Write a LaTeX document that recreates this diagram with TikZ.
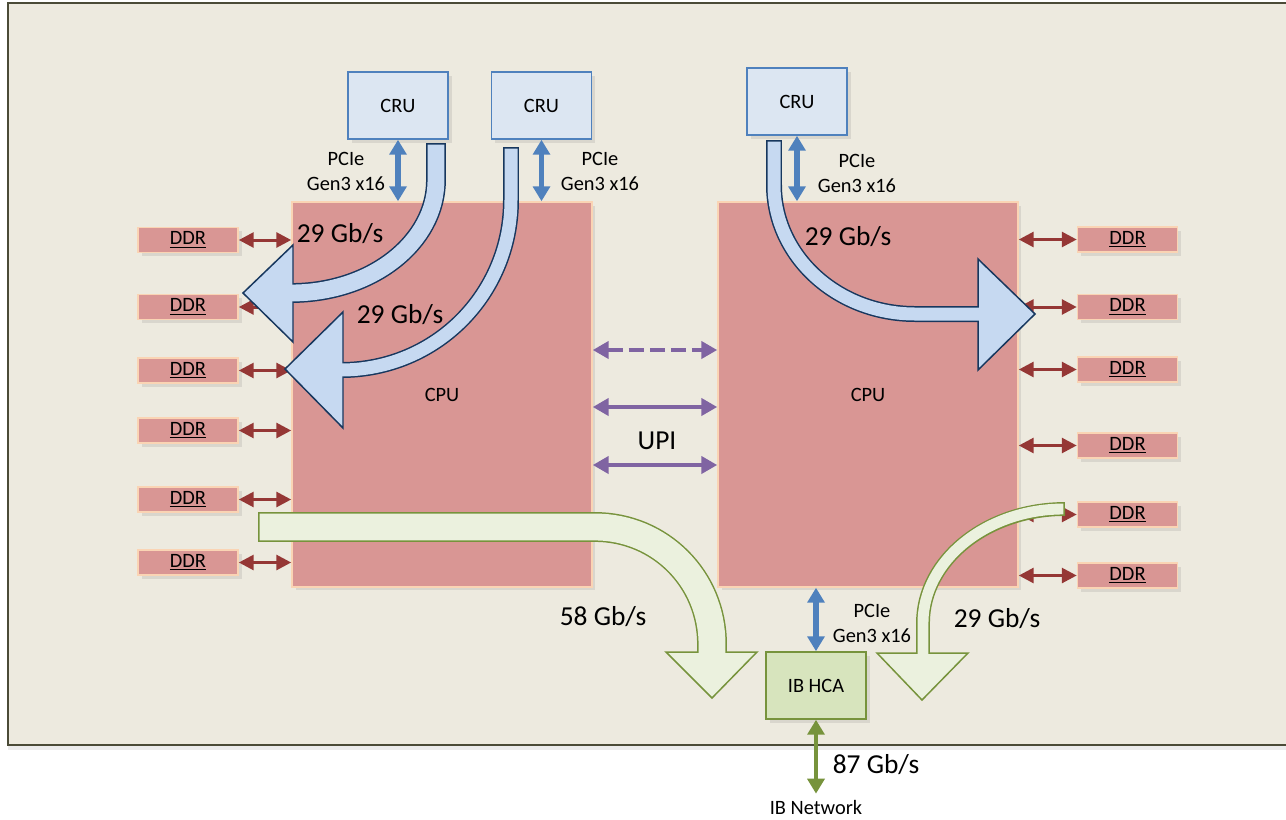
\documentclass[tikz,border=0pt]{standalone}
\usepackage{fontspec}
\setmainfont{Carlito}
\usepackage{tikz}
\usepackage{xcolor}
\usetikzlibrary{arrows.meta,shadows}

\definecolor{panelbg}{HTML}{EDEADF}
\definecolor{panelline}{HTML}{4B4B37}
\definecolor{cpufill}{HTML}{D99694}
\definecolor{cpuline}{HTML}{FAD4B4}
\definecolor{crufill}{HTML}{DCE6F2}
\definecolor{cruline}{HTML}{4F81BD}
\definecolor{memred}{HTML}{953735}
\definecolor{upiviolet}{HTML}{8064A2}
\definecolor{flowblue}{HTML}{C6D9F1}
\definecolor{flowedge}{HTML}{17375E}
\definecolor{hcafill}{HTML}{D7E4BD}
\definecolor{hcagreen}{HTML}{77933C}
\definecolor{flowgreen}{HTML}{EBF1DE}

\newcommand{\lblsize}{\fontsize{11.6}{14.2}\selectfont}
\newcommand{\ratesize}{\fontsize{15.6}{18.7}\selectfont}

\begin{document}
\begin{tikzpicture}[x=0.02cm,y=-0.02cm,
  boxshadow/.style={drop shadow={shadow xshift=2pt,shadow yshift=-2pt,opacity=0.18}},
  cpubox/.style={boxshadow,fill=cpufill,draw=cpuline,line width=0.9pt,inner sep=0pt,
    minimum width=6cm,minimum height=7.7cm,font=\lblsize},
  ddrbox/.style={boxshadow,fill=cpufill,draw=cpuline,line width=0.9pt,inner sep=0pt,
    minimum width=2cm,minimum height=0.5cm,font=\lblsize},
  crubox/.style={boxshadow,fill=crufill,draw=cruline,line width=0.9pt,inner sep=0pt,
    minimum width=2cm,minimum height=1.34cm,font=\lblsize},
  hcabox/.style={boxshadow,fill=hcafill,draw=hcagreen,line width=0.9pt,inner sep=0pt,
    minimum width=2cm,minimum height=1.34cm,font=\lblsize},
  memlink/.style={draw=memred,line width=1.7pt,
    {Triangle[width=8.5pt,length=8.5pt]}-{Triangle[width=8.5pt,length=8.5pt]}},
  pcielink/.style={draw=cruline,line width=3.2pt,
    {Triangle[width=9.6pt,length=8.5pt]}-{Triangle[width=9.6pt,length=8.5pt]}},
  upilink/.style={draw=upiviolet,line width=2.8pt,
    {Triangle[width=9.6pt,length=9pt]}-{Triangle[width=9.6pt,length=9pt]}},
  iblink/.style={draw=hcagreen,line width=2.8pt,
    {Triangle[width=9.6pt,length=8.5pt]}-{Triangle[width=9.6pt,length=8.5pt]}},
  blueedge/.style={draw=flowedge},
  bluebody/.style={draw=flowblue,shorten <=0.9pt},
  bluehead/.style={fill=flowblue,draw=flowedge,line width=0.85pt,line join=miter},
  greenedge/.style={draw=hcagreen},
  greenbody/.style={draw=flowgreen,shorten <=0.9pt},
  greenhead/.style={fill=flowgreen,draw=hcagreen,line width=0.85pt,line join=miter},
  pcielbl/.style={font=\lblsize,align=center,inner sep=0pt},
  ratelbl/.style={font=\ratesize,inner sep=0pt}]

\useasboundingbox (0,0) rectangle (1286,819);
\fill[white] (0,0) rectangle (1286,819);

% Board
\draw[fill=panelbg,draw=panelline,line width=1.2pt,
  drop shadow={shadow xshift=0pt,shadow yshift=-3pt,opacity=0.15}] (8,3) rectangle (1295,745);

% CPUs
\node[cpubox] (cpuL) at (442,394.5) {CPU};
\node[cpubox] (cpuR) at (868,394.5) {CPU};

% CRUs
\node[crubox] (cru1) at (398,105.5) {CRU};
\node[crubox] (cru2) at (541.5,105.5) {CRU};
\node[crubox] (cru3) at (797,101.5) {CRU};

% HCA
\node[hcabox] (hca) at (816,685.5) {IB HCA};
\node[font=\lblsize,anchor=base] (ibnet) at (816,814) {IB Network};

% Memory, left socket
\node[ddrbox] (ddrL1) at (188,240) {\underline{DDR}};
\node[ddrbox] (ddrL2) at (188,307) {\underline{DDR}};
\node[ddrbox] (ddrL3) at (188,370.5) {\underline{DDR}};
\node[ddrbox] (ddrL4) at (188,430.5) {\underline{DDR}};
\node[ddrbox] (ddrL5) at (188,499.5) {\underline{DDR}};
\node[ddrbox] (ddrL6) at (188,562.5) {\underline{DDR}};

% Memory, right socket
\node[ddrbox] (ddrR1) at (1127.5,239.5) {\underline{DDR}};
\node[ddrbox] (ddrR2) at (1127.5,307) {\underline{DDR}};
\node[ddrbox] (ddrR3) at (1127.5,369.5) {\underline{DDR}};
\node[ddrbox] (ddrR4) at (1127.5,445.5) {\underline{DDR}};
\node[ddrbox] (ddrR5) at (1127.5,514.5) {\underline{DDR}};
\node[ddrbox] (ddrR6) at (1127.5,575.5) {\underline{DDR}};

% Memory links
\draw[memlink] (ddrL1.east) -- (cpuL.west |- ddrL1.east);
\draw[memlink] (ddrL2.east) -- (cpuL.west |- ddrL2.east);
\draw[memlink] (ddrL3.east) -- (cpuL.west |- ddrL3.east);
\draw[memlink] (ddrL4.east) -- (cpuL.west |- ddrL4.east);
\draw[memlink] (ddrL5.east) -- (cpuL.west |- ddrL5.east);
\draw[memlink] (ddrL6.east) -- (cpuL.west |- ddrL6.east);
\draw[memlink] (cpuR.east |- ddrR1.west) -- (ddrR1.west);
\draw[memlink] (cpuR.east |- ddrR2.west) -- (ddrR2.west);
\draw[memlink] (cpuR.east |- ddrR3.west) -- (ddrR3.west);
\draw[memlink] (cpuR.east |- ddrR4.west) -- (ddrR4.west);
\draw[memlink] (cpuR.east |- ddrR5.west) -- (ddrR5.west);
\draw[memlink] (cpuR.east |- ddrR6.west) -- (ddrR6.west);

% PCIe links
\draw[pcielink] (cru1.south) -- (cru1.south |- cpuL.north);
\draw[pcielink] (cru2.south) -- (cru2.south |- cpuL.north);
\draw[pcielink] (cru3.south) -- (cru3.south |- cpuR.north);
\draw[pcielink] (hca.north |- cpuR.south) -- (hca.north);
\node[pcielbl] (pcie1) at (346,171) {PCIe\\Gen3 x16};
\node[pcielbl] (pcie2) at (600,171) {PCIe\\Gen3 x16};
\node[pcielbl] (pcie3) at (857,173) {PCIe\\Gen3 x16};
\node[pcielbl] (pcie4) at (872,623) {PCIe\\Gen3 x16};

% UPI
\draw[upilink,dash pattern=on 8.5pt off 3.5pt] (cpuL.east |- 0,350) -- (cpuR.west |- 0,350);
\draw[upilink] (cpuL.east |- 0,407) -- (cpuR.west |- 0,407);
\draw[upilink] (cpuL.east |- 0,465) -- (cpuR.west |- 0,465);
\node[ratelbl,anchor=base] (upi) at (657,449) {UPI};

% Network
\draw[iblink] (hca.south) -- (ibnet.north);

% Flows from the CRUs
\draw[blueedge,line width=11.3pt] (436,143) -- (436,180) .. controls (436,242) and (372,293) .. (291,293);
\draw[bluehead] (293,245) -- (243,293) -- (293,342) -- cycle;
\draw[bluebody,line width=9.6pt] (436,143) -- (436,180) .. controls (436,242) and (372,293) .. (291,293);

\draw[blueedge,line width=9.1pt] (511,147) -- (511,200) .. controls (511,294) and (436,370) .. (341,370);
\draw[bluehead] (343,312) -- (285,369) -- (343,428) -- cycle;
\draw[bluebody,line width=7.4pt] (511,147) -- (511,200) .. controls (511,294) and (436,370) .. (341,370);

\draw[blueedge,line width=9.1pt] (774,140) -- (774,185) .. controls (774,256) and (837,314) .. (915,314) -- (980,314);
\draw[bluehead] (978,259) -- (1035,314) -- (978,370) -- cycle;
\draw[bluebody,line width=7.4pt] (774,140) -- (774,185) .. controls (774,256) and (837,314) .. (915,314) -- (980,314);

% Flows to the HCA
\draw[greenedge,line width=17pt] (258,527) -- (595,527) .. controls (660,527) and (712,579) .. (712,644) -- (712,654);
\draw[greenhead] (666,652) -- (712,698) -- (757,652) -- cycle;
\draw[greenbody,line width=15.3pt] (258,527) -- (595,527) .. controls (660,527) and (712,579) .. (712,644) -- (712,654);

\draw[greenedge,line width=7.9pt] (1065,509) .. controls (987,509) and (923,560) .. (923,623) -- (923,655);
\draw[greenhead] (877,653) -- (922,700) -- (968,653) -- cycle;
\draw[greenbody,line width=6.2pt] (1065,509) .. controls (987,509) and (923,560) .. (923,623) -- (923,655);

% Rates
\node[ratelbl,anchor=base] (rateA) at (340,242) {29 Gb/s};
\node[ratelbl,anchor=base] (rateB) at (400,323) {29 Gb/s};
\node[ratelbl,anchor=base] (rateC) at (848,245) {29 Gb/s};
\node[ratelbl,anchor=base] (rateD) at (603,625) {58 Gb/s};
\node[ratelbl,anchor=base] (rateE) at (997,627) {29 Gb/s};
\node[ratelbl,anchor=base] (rateIB) at (876,773) {87 Gb/s};

\end{tikzpicture}
\end{document}
